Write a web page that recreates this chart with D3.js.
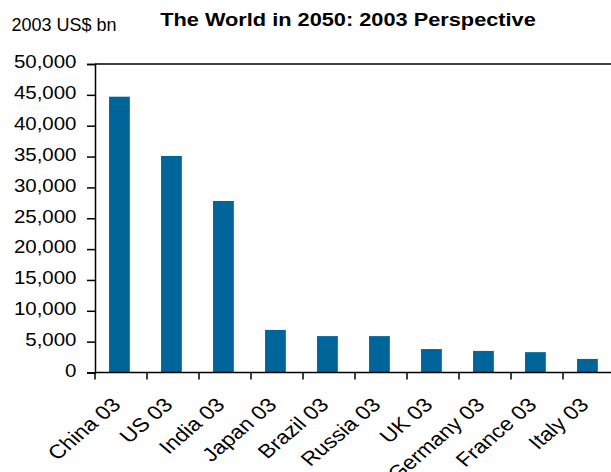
<!DOCTYPE html>
<html>
<head>
<meta charset="utf-8">
<script src="https://cdn.jsdelivr.net/npm/d3@7"></script>
<style>
  html, body { margin: 0; padding: 0; background: #fff; }
  svg { display: block; }
  text { font-family: "Liberation Sans", Arial, sans-serif; fill: #000; }
</style>
</head>
<body>
<svg id="chart" width="611" height="472"></svg>
<script>
// ---- data ----
const categories = ["China 03", "US 03", "India 03", "Japan 03", "Brazil 03", "Russia 03", "UK 03", "Germany 03", "France 03", "Italy 03"];
const values = [44700, 35100, 27800, 6900, 5900, 5900, 3800, 3500, 3300, 2200];
const yTicks = [0, 5000, 10000, 15000, 20000, 25000, 30000, 35000, 40000, 45000, 50000];
const title = "The World in 2050: 2003 Perspective";
const unitLabel = "2003 US$ bn";

// ---- layout ----
const svg = d3.select("#chart");
const plotLeft = 95, plotRight = 615, plotTop = 64, plotBottom = 372.5;
const barColor = "#006699";
const stretch = 1.17; // reference is horizontally stretched

const x = d3.scaleBand().domain(categories).range([plotLeft, plotRight])
  .paddingInner(0.6).paddingOuter(0.3).align(0.45);
const y = d3.scaleLinear().domain([0, 50000]).range([plotBottom, plotTop]);

// title & unit
svg.append("text")
  .attr("transform", `translate(348,25.7) scale(${stretch},1)`)
  .attr("text-anchor", "middle").attr("font-weight", "bold")
  .attr("font-size", 18.6).text(title);
svg.append("text").attr("x", 11.5).attr("y", 30.7)
  .attr("font-size", 18).text(unitLabel);

// bars
svg.append("g").selectAll("rect").data(categories).join("rect")
  .attr("x", d => x(d))
  .attr("width", x.bandwidth())
  .attr("y", (d, i) => y(values[i]))
  .attr("height", (d, i) => y(0) - y(values[i]))
  .attr("fill", barColor);

// top frame line
svg.append("line").attr("x1", plotLeft).attr("x2", 611).attr("y1", y(50000)).attr("y2", y(50000))
  .attr("stroke", "#000").attr("stroke-width", 1.5);

// y axis
const yAxis = d3.axisLeft(y).tickValues(yTicks).tickSize(8).tickPadding(11)
  .tickFormat(d3.format(","));
const gy = svg.append("g").attr("transform", `translate(${plotLeft},0)`).call(yAxis);
gy.select(".domain").attr("stroke", "#000").attr("stroke-width", 1.5);
gy.selectAll(".tick line").attr("stroke", "#000").attr("stroke-width", 1.5);
gy.selectAll(".tick text")
  .attr("x", null).attr("dy", null)
  .attr("transform", "translate(-18.5,3.8) scale(1.1,1)")
  .attr("font-size", 18.6)
  .attr("font-family", "Liberation Sans, Arial, sans-serif").attr("fill", "#000");

// x axis line
svg.append("line").attr("x1", plotLeft).attr("x2", 611).attr("y1", plotBottom).attr("y2", plotBottom)
  .attr("stroke", "#000").attr("stroke-width", 1.5);

// x ticks at category boundaries
const boundaries = d3.range(categories.length + 1).map(i => x.range()[0] + i * x.step());
svg.append("g").selectAll("line").data(boundaries).join("line")
  .attr("x1", d => d).attr("x2", d => d)
  .attr("y1", plotBottom).attr("y2", plotBottom + 7)
  .attr("stroke", "#000").attr("stroke-width", 1.5);

// x labels, rotated (then stretched horizontally like the reference)
svg.append("g").selectAll("text").data(categories).join("text")
  .attr("transform", d => `translate(${x(d) + x.bandwidth() / 2 + 2.5},${406}) scale(${stretch},1) rotate(-45)`)
  .attr("text-anchor", "end")
  .attr("font-size", 19.5)
  .text(d => d);
</script>
</body>
</html>
